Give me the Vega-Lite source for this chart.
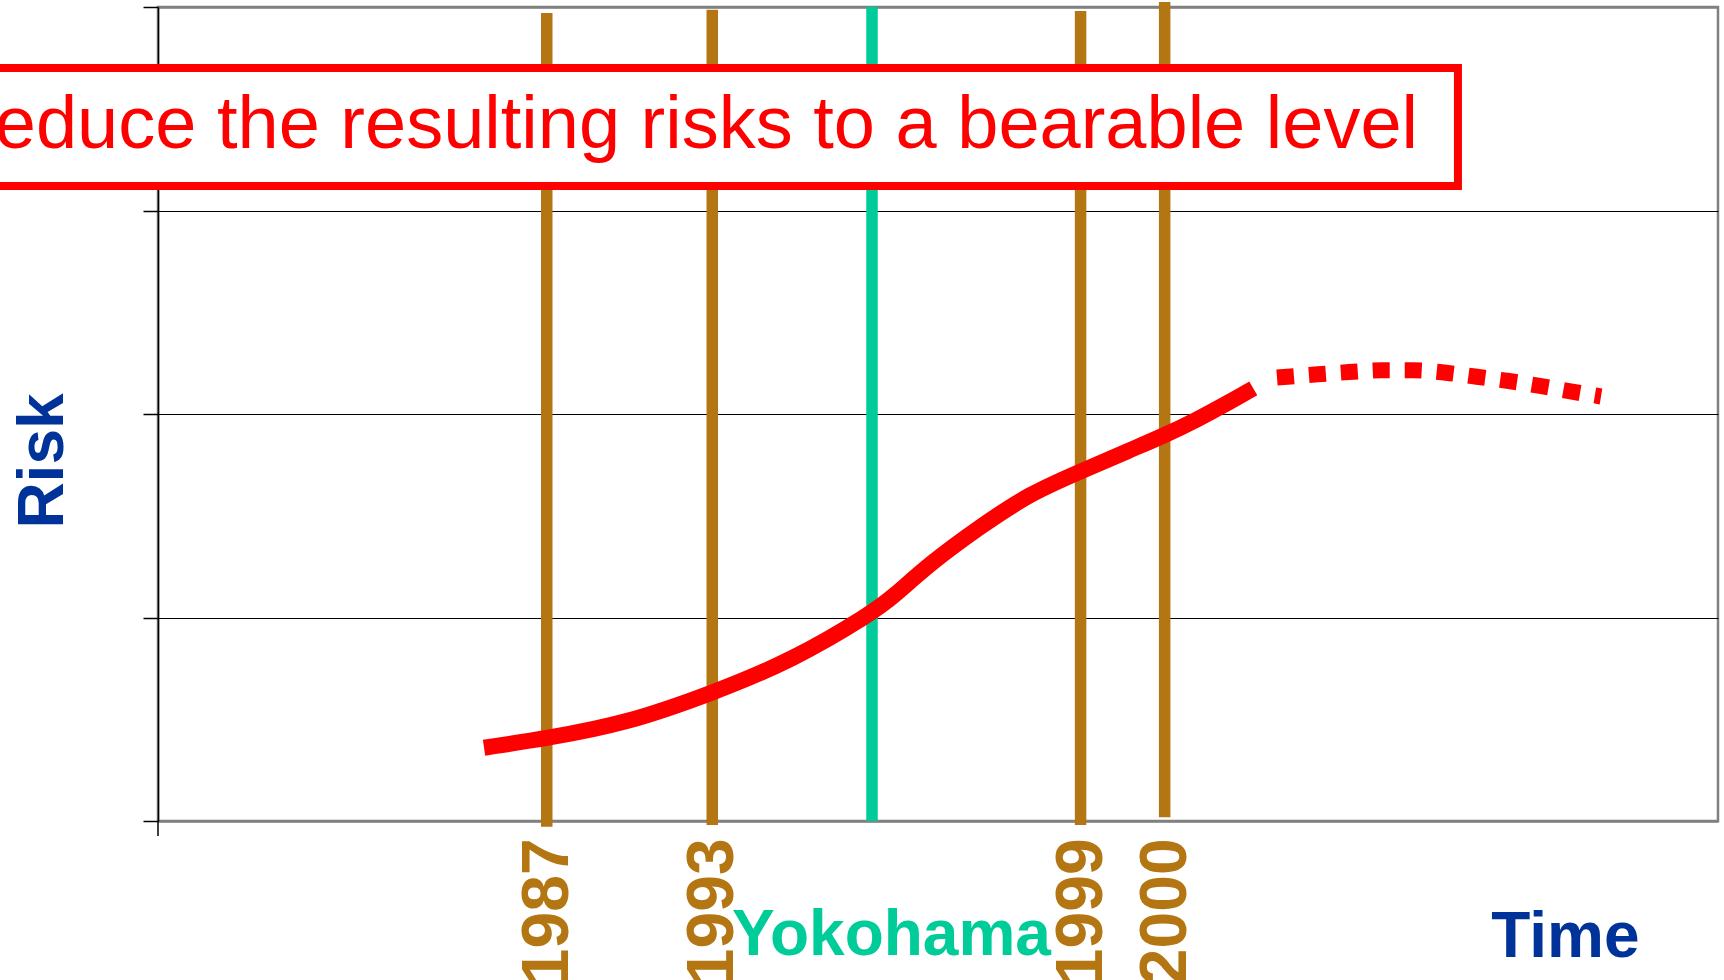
{
  "$schema": "https://vega.github.io/schema/vega-lite/v6.json",
  "width": 1560,
  "height": 814,
  "autosize": {"type": "none"},
  "padding": {"left": 158, "top": 7, "right": 6, "bottom": 159},
  "background": "white",
  "config": {
    "view": {"stroke": "#808080", "strokeWidth": 2.5},
    "font": "Liberation Sans",
    "text": {"font": "Liberation Sans"},
    "axisY": {"tickCount": 4, "labels": false, "ticks": true, "tickSize": 15, "tickColor": "black", "tickWidth": 1.5, "domain": true, "domainColor": "black", "domainWidth": 1.5, "grid": true, "gridColor": "black", "gridWidth": 1.2, "gridOpacity": 1, "title": null}
  },
  "datasets": {
    "observed": [
      {"t": 20.90, "risk": 0.360},
      {"t": 24.92, "risk": 0.406},
      {"t": 30.04, "risk": 0.480},
      {"t": 35.53, "risk": 0.628},
      {"t": 40.72, "risk": 0.791},
      {"t": 45.75, "risk": 1.021},
      {"t": 47.13, "risk": 1.102},
      {"t": 49.49, "risk": 1.266},
      {"t": 52.69, "risk": 1.446},
      {"t": 55.90, "risk": 1.610},
      {"t": 59.10, "risk": 1.716},
      {"t": 62.31, "risk": 1.823},
      {"t": 64.44, "risk": 1.892},
      {"t": 66.58, "risk": 1.971},
      {"t": 68.72, "risk": 2.060},
      {"t": 70.21, "risk": 2.126}
    ],
    "projected": [
      {"t": 71.73, "risk": 2.179},
      {"t": 74.36, "risk": 2.195},
      {"t": 76.35, "risk": 2.206},
      {"t": 78.46, "risk": 2.215},
      {"t": 80.45, "risk": 2.215},
      {"t": 82.56, "risk": 2.203},
      {"t": 84.55, "risk": 2.183},
      {"t": 86.60, "risk": 2.162},
      {"t": 88.59, "risk": 2.138},
      {"t": 90.64, "risk": 2.110},
      {"t": 92.50, "risk": 2.086}
    ],
    "milestones": [
      {"label": "1987", "t": 24.92, "from": -0.028, "to": 3.97, "kind": "year"},
      {"label": "1993", "t": 35.53, "from": -0.02, "to": 3.986, "kind": "year"},
      {"label": "Yokohama", "t": 45.77, "from": 0, "to": 4, "kind": "conference"},
      {"label": "1999", "t": 59.14, "from": -0.02, "to": 3.98, "kind": "year"},
      {"label": "2000", "t": 64.53, "from": 0.018, "to": 4.024, "kind": "year"}
    ],
    "axisstub": [{"t": 0, "from": -0.074, "to": 0}],
    "goal": [{"label": "Reduce the resulting risks to a bearable level", "t_start": -20, "t_end": 83.33, "r_low": 3.12, "r_high": 3.70, "t": 80.77, "risk": 3.307}],
    "yokohama": [{"label": "Yokohama", "t": 47.02, "risk": -0.658}],
    "xtitle": [{"label": "Time", "t": 90.22, "risk": -0.666}],
    "ytitle": [{"label": "Risk", "t": -6.09, "risk": 1.769}]
  },
  "layer": [
    {
      "data": {"name": "axisstub"},
      "mark": {"type": "rule", "color": "black", "strokeWidth": 1.5},
      "encoding": {
        "x": {"field": "t", "type": "quantitative", "scale": {"domain": [0, 100], "nice": false, "zero": false}, "axis": null},
        "y": {"field": "from", "type": "quantitative", "scale": {"domain": [0, 4], "nice": false, "zero": false}, "title": null,
          "axis": {
            "gridColor": {"condition": {"test": "datum.value === 0 || datum.value === 4", "value": "#808080"}, "value": "black"},
            "gridWidth": {"condition": {"test": "datum.value === 0 || datum.value === 4", "value": 2.5}, "value": 1.2}
          }},
        "y2": {"field": "to"}
      }
    },
    {
      "data": {"name": "milestones"},
      "transform": [{"filter": "datum.kind === 'year'"}],
      "mark": {"type": "rule", "color": "#B47612", "strokeWidth": 11.5},
      "encoding": {
        "x": {"field": "t", "type": "quantitative", "axis": null},
        "y": {"field": "from", "type": "quantitative", "title": null},
        "y2": {"field": "to"}
      }
    },
    {
      "data": {"name": "milestones"},
      "transform": [{"filter": "datum.kind === 'conference'"}],
      "mark": {"type": "rule", "color": "#00CC99", "strokeWidth": 11.5},
      "encoding": {
        "x": {"field": "t", "type": "quantitative", "axis": null},
        "y": {"field": "from", "type": "quantitative", "title": null},
        "y2": {"field": "to"}
      }
    },
    {
      "data": {"name": "observed"},
      "mark": {"type": "line", "color": "#FF0000", "strokeWidth": 16, "interpolate": "basis", "strokeCap": "butt", "strokeJoin": "round"},
      "encoding": {
        "x": {"field": "t", "type": "quantitative", "axis": null},
        "y": {"field": "risk", "type": "quantitative", "title": null}
      }
    },
    {
      "data": {"name": "projected"},
      "mark": {"type": "line", "color": "#FF0000", "strokeWidth": 16, "interpolate": "monotone", "strokeCap": "butt", "strokeDash": [17, 15]},
      "encoding": {
        "x": {"field": "t", "type": "quantitative", "axis": null},
        "y": {"field": "risk", "type": "quantitative", "title": null}
      }
    },
    {
      "data": {"name": "goal"},
      "mark": {"type": "rect", "fill": "white", "stroke": "#FF0000", "strokeWidth": 8},
      "encoding": {
        "x": {"field": "t_start", "type": "quantitative", "axis": null},
        "x2": {"field": "t_end"},
        "y": {"field": "r_low", "type": "quantitative", "title": null},
        "y2": {"field": "r_high"}
      }
    },
    {
      "data": {"name": "goal"},
      "mark": {"type": "text", "color": "#FF0000", "fontSize": 74, "align": "right", "baseline": "alphabetic"},
      "encoding": {
        "x": {"field": "t", "type": "quantitative", "axis": null},
        "y": {"field": "risk", "type": "quantitative", "title": null},
        "text": {"field": "label"}
      }
    },
    {
      "data": {"name": "milestones"},
      "transform": [{"filter": "datum.kind === 'year'"}],
      "mark": {"type": "text", "color": "#B47612", "fontSize": 66, "fontWeight": "bold", "angle": -90, "align": "right", "baseline": "alphabetic", "dy": 21},
      "encoding": {
        "x": {"field": "t", "type": "quantitative", "axis": null},
        "y": {"datum": -0.085, "type": "quantitative", "title": null},
        "text": {"field": "label"}
      }
    },
    {
      "data": {"name": "yokohama"},
      "mark": {"type": "text", "color": "#00CC99", "fontSize": 64, "fontWeight": "bold", "align": "center", "baseline": "alphabetic"},
      "encoding": {
        "x": {"field": "t", "type": "quantitative", "axis": null},
        "y": {"field": "risk", "type": "quantitative", "title": null},
        "text": {"field": "label"}
      }
    },
    {
      "data": {"name": "xtitle"},
      "mark": {"type": "text", "color": "#003399", "fontSize": 64, "fontWeight": "bold", "align": "center", "baseline": "alphabetic"},
      "encoding": {
        "x": {"field": "t", "type": "quantitative", "axis": null},
        "y": {"field": "risk", "type": "quantitative", "title": null},
        "text": {"field": "label"}
      }
    },
    {
      "data": {"name": "ytitle"},
      "mark": {"type": "text", "color": "#003399", "fontSize": 64, "fontWeight": "bold", "angle": -90, "align": "center", "baseline": "alphabetic"},
      "encoding": {
        "x": {"field": "t", "type": "quantitative", "axis": null},
        "y": {"field": "risk", "type": "quantitative", "title": null},
        "text": {"field": "label"}
      }
    }
  ]
}
